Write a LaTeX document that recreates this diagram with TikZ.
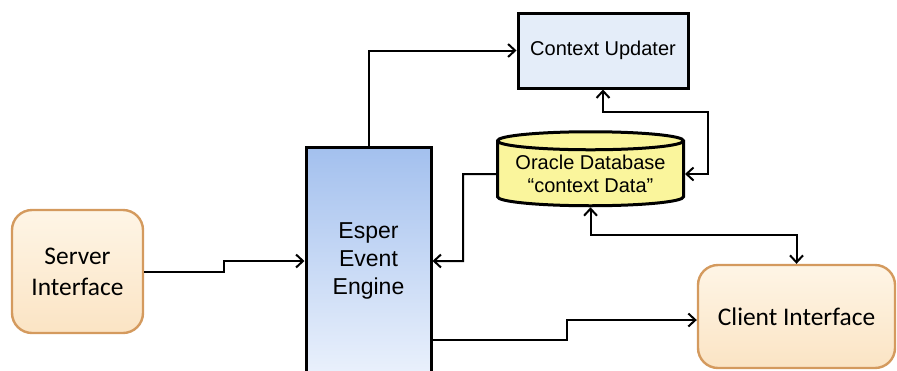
\documentclass[tikz,border=0pt]{standalone}
\usepackage{fontspec}
\setmainfont{Liberation Sans}
\newfontfamily\carlito{Carlito}
\usetikzlibrary{arrows.meta, shapes.geometric}
\definecolor{ifaceline}{HTML}{D49A5E}
\definecolor{ifacefill}{HTML}{FEF5E6}
\definecolor{ifacedark}{HTML}{FBE4C4}
\definecolor{esperdark}{HTML}{A3C0EE}
\definecolor{esperlight}{HTML}{EAF1FC}
\definecolor{updfill}{HTML}{E4EDF9}
\definecolor{dbfill}{HTML}{FAF59C}

\begin{document}
\begin{tikzpicture}[
    x=0.5pt, y=-0.5pt,
    every node/.style={align=center, inner sep=0pt},
    iface/.style={draw=ifaceline, line width=1.2pt, rounded corners=10pt, top color=ifacefill, bottom color=ifacedark, font=\carlito\fontsize{12.7}{15.5}\selectfont},
    engine/.style={draw=black, line width=1.5pt, top color=esperdark, bottom color=esperlight, font=\fontsize{11.5}{14}\selectfont},
    box/.style={draw=black, line width=1.5pt, fill=updfill, font=\fontsize{10}{12}\selectfont},
    db/.style={cylinder, shape border rotate=90, aspect=0.12, draw=black, line width=1.5pt, fill=dbfill, font=\fontsize{10}{11.5}\selectfont},
    arr/.style={-{Straight Barb[length=3.5pt, width=6.5pt]}, line width=1pt},
    biarr/.style={{Straight Barb[length=3.5pt, width=6.5pt]}-{Straight Barb[length=3.5pt, width=6.5pt]}, line width=1pt},
  ]
  \useasboundingbox (0,0) rectangle (897,370);
  \clip (0,0) rectangle (897,370);

  \node[iface, minimum width=65.5pt, minimum height=61.5pt] (server) at (77.5,271.5) {Server\\Interface};
  \node[engine, minimum width=62.5pt, minimum height=114pt] (esper) at (368.5,261) {Esper\\Event\\Engine};
  \node[box, minimum width=85pt, minimum height=37.5pt] (updater) at (603,50.5) {Context Updater};
  \node[db, minimum width=93pt, minimum height=37pt] (oracle) at (590.5,174) {Oracle Database\\“context Data”};
  \node[iface, minimum width=98.5pt, minimum height=51.5pt] (client) at (796.5,316.5) {Client Interface};

  \draw[arr] (server.east) -- (224,271.5) |- (esper.west);
  \draw[arr] (esper.north) |- (updater.west);
  \draw[arr] (oracle.west) -- (463,174) |- (esper.east);
  \draw[biarr] (updater.south) |- (708,112) |- (oracle.east);
  \draw[biarr] (oracle.south) -- ++(0,28) -| (client.north);
  \draw[arr] (esper.east |- 0,340) -- (567,340) |- ([yshift=-1.75pt]client.west);
\end{tikzpicture}
\end{document}
